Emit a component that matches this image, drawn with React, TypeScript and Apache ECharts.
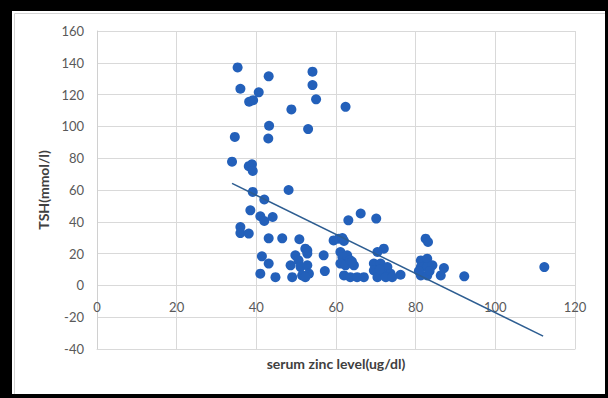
import React, { useEffect, useRef } from "react";
import * as echarts from "echarts";

// serum zinc level (ug/dl) vs TSH (mmol/l)
const zincValues: number[] = [
  35.3, 43.1, 54.1, 54.1, 36.0, 40.6, 38.2, 39.2, 55.0, 48.8, 62.4, 43.2, 53.0, 34.6, 43.0,
  33.9, 38.1, 38.9, 39.1, 39.1, 48.1, 42.0, 38.5, 41.0, 42.0, 44.1, 36.0, 36.0, 38.1, 43.1,
  46.5, 50.8, 63.1, 66.2, 70.1, 59.4, 60.7, 61.6, 62.0, 72.0, 70.4, 82.5, 83.1,
  41.4, 43.1, 41.0, 44.8, 48.6, 49.0, 49.8, 50.6, 52.3, 52.8, 52.8, 51.1, 52.8, 51.5, 53.2,
  52.3, 56.9, 57.2,
  61.1, 61.6, 62.8, 61.1, 62.4, 64.5, 62.0, 63.6, 65.3, 67.0, 63.5, 64.0,
  69.5, 71.2, 72.9, 69.5, 72.0, 73.7, 76.2, 70.4, 72.5, 74.1, 71.0,
  81.3, 82.9, 81.3, 82.9, 84.2, 81.3, 82.9, 80.8, 83.5, 87.1, 86.3, 92.2, 112.3,
];
const tshValues: number[] = [
  137.1, 131.5, 134.4, 126.0, 123.7, 121.4, 115.5, 116.5, 117.0, 110.7, 112.3, 100.4, 98.3, 93.4, 92.4,
  77.8, 75.0, 76.2, 72.0, 58.8, 60.0, 54.0, 47.2, 43.5, 40.5, 43.0, 36.7, 32.9, 32.6, 29.6,
  29.6, 29.0, 40.9, 45.2, 42.0, 28.3, 29.4, 29.8, 28.0, 23.1, 21.0, 29.4, 27.3,
  18.3, 13.7, 7.4, 5.2, 12.6, 5.2, 18.9, 15.7, 23.1, 22.0, 20.0, 11.5, 12.6, 6.3, 7.4,
  5.2, 18.9, 9.0,
  21.0, 17.8, 18.9, 13.7, 12.6, 12.6, 6.3, 5.2, 5.2, 5.2, 16.0, 15.0,
  13.7, 13.7, 11.5, 9.4, 7.4, 7.4, 6.7, 5.2, 5.2, 5.2, 10.0,
  15.7, 16.8, 11.5, 11.5, 12.6, 6.3, 6.3, 9.0, 9.0, 10.9, 6.3, 5.7, 11.5,
];
// linear trend line end points
const trendX: number[] = [33.9, 112.0];
const trendY: number[] = [64.2, -31.9];

const xAxisName = "serum zinc level(ug/dl)";
const yAxisName = "TSH(mmol/l)";

const FONT = "Lato, 'Open Sans', sans-serif";

export default function App() {
  const ref = useRef<HTMLDivElement>(null);

  useEffect(() => {
    if (!ref.current) return;
    const chart = echarts.init(ref.current, undefined, { renderer: "svg" });
    const points = zincValues.map((x, i) => [x, tshValues[i]]);
    const trend = trendX.map((x, i) => [x, trendY[i]]);
    chart.setOption({
      animation: false,
      backgroundColor: "#ffffff",
      textStyle: { fontFamily: FONT },
      grid: {
        left: 85,
        top: 20,
        width: 478,
        height: 318,
        containLabel: false,
        outerBoundsMode: "none",
      },
      graphic: [
        {
          type: "rect",
          left: 0,
          top: 0,
          shape: { x: 0.5, y: 0.5, width: 591, height: 381 },
          style: { fill: "none", stroke: "#d4d4d4", lineWidth: 1 },
          silent: true,
        },
      ],
      xAxis: {
        type: "value",
        min: 0,
        max: 120,
        interval: 20,
        name: xAxisName,
        nameLocation: "middle",
        nameGap: 7,
        nameTextStyle: { color: "#404040", fontSize: 14, fontWeight: "bold", fontFamily: FONT },
        axisLine: { show: true, onZero: false, lineStyle: { color: "#d9d9d9", width: 1 } },
        axisTick: { show: false },
        // labels sit just under the zero line, as in the reference
        axisLabel: { color: "#595959", fontSize: 13, margin: -49, fontFamily: FONT },
        splitLine: { show: true, lineStyle: { color: "#d9d9d9", width: 1 } },
      },
      yAxis: {
        type: "value",
        min: -40,
        max: 160,
        interval: 20,
        name: yAxisName,
        nameLocation: "middle",
        nameGap: 43,
        nameRotate: 90,
        nameTextStyle: { color: "#404040", fontSize: 14, fontWeight: "bold", fontFamily: FONT },
        axisLine: { show: true, onZero: false, lineStyle: { color: "#d0d0d0", width: 1 } },
        axisTick: { show: false },
        axisLabel: { color: "#595959", fontSize: 13, margin: 13, fontFamily: FONT },
        splitLine: { show: true, lineStyle: { color: "#d9d9d9", width: 1 } },
      },
      series: [
        {
          type: "scatter",
          data: points,
          symbol: "circle",
          symbolSize: 10,
          itemStyle: { color: "#2360ba", opacity: 1 },
          z: 3,
        },
        {
          type: "line",
          data: trend,
          showSymbol: false,
          symbol: "none",
          lineStyle: { color: "#2d5d91", width: 1.5 },
          z: 4,
        },
      ],
    });
    return () => chart.dispose();
  }, []);

  return (
    <div
      style={{
        position: "fixed",
        left: 0,
        top: 0,
        width: 608,
        height: 398,
        background: "#000000",
      }}
    >
      <div
        ref={ref}
        style={{ position: "absolute", left: 12, top: 11, width: 593, height: 383 }}
      />
    </div>
  );
}
